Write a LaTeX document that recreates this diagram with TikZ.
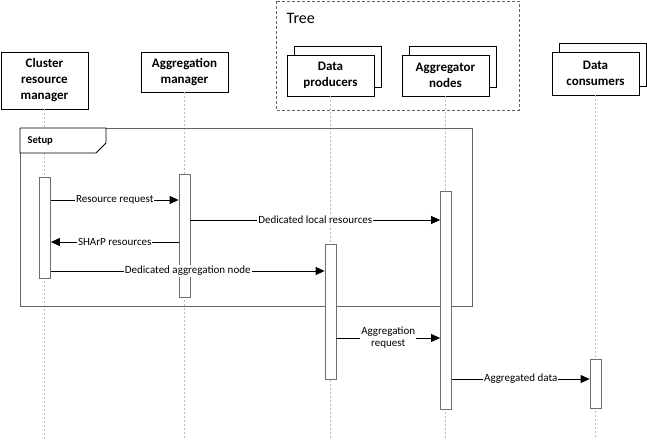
\documentclass[tikz,border=0pt]{standalone}
\usepackage{fontspec}
\setmainfont{Carlito}
\usetikzlibrary{arrows.meta,shadows}
\definecolor{lineGray}{RGB}{190,190,190}
\definecolor{barGray}{RGB}{110,110,110}
\definecolor{frameGray}{RGB}{100,100,100}
\tikzset{
    every picture/.style={
        line width=0.8pt
    },
    % boxes at the head of each lifeline
    actor box/.style={
        draw=black, fill=white,
        font=\fontsize{13}{16}\selectfont\bfseries,
        align=center, minimum width=87pt, inner sep=2pt
    },
    stacked box/.style={
        actor box,
        copy shadow={shadow xshift=7pt, shadow yshift=9pt, draw=black, fill=white}
    },
    life line/.style={draw=lineGray, dash pattern=on 2pt off 2pt, line width=0.6pt},
    activation bar/.style={draw=barGray, fill=white, minimum width=11pt, inner sep=0pt},
    message/.style={-{Triangle[length=9pt,width=8pt]}, line width=0.8pt},
    % Style for labels sitting on the arrows
    message label/.style={
        fill=white, inner sep=1pt, align=center,
        font=\fontsize{11}{12}\selectfont
    }
}

\begin{document}
\begin{tikzpicture}[x=1pt,y=-1pt]

% Set the canvas size
\path[use as bounding box] (0,0) rectangle (647,439);

% Tree group
\draw[frameGray, dash pattern=on 3pt off 2pt, line width=1pt] (276,1) rectangle (519,110);
\node[anchor=west, font=\fontsize{16}{18}\selectfont] (tree) at (283,18) {Tree};

% heads of the lifelines
\node[actor box, minimum height=57pt] (crm) at (44.5,80.5) {Cluster\\resource\\manager};
\node[actor box, minimum height=40pt] (am) at (184.5,72) {Aggregation\\manager};
\node[stacked box, minimum height=41pt] (dp) at (330.5,75.5) {Data\\producers};
\node[stacked box, minimum height=41pt] (an) at (445.5,75.5) {Aggregator\\nodes};
\node[stacked box, minimum height=43pt] (dc) at (595.5,73.5) {Data\\consumers};

% lifelines
\foreach \who in {crm,am,dp,an,dc}
    \draw[life line] (\who.south) -- (\who.south |- 0,439);

% Setup frame
\draw[frameGray, line width=1pt] (20,128) rectangle (472,306);
\draw[black, fill=white] (20,128) -- (106,128) -- (106,143) -- (96,153) -- (20,153) -- cycle;
\node[anchor=west, font=\fontsize{10.5}{12}\selectfont\bfseries] (setup) at (24,141) {Setup};

% activation bars
\node[activation bar, minimum height=101pt] (crmbar) at (45,227.5) {};
\node[activation bar, minimum height=123pt] (ambar) at (184.5,235.5) {};
\node[activation bar, minimum height=135pt] (dpbar) at (330.5,311.5) {};
\node[activation bar, minimum height=218pt] (anbar) at (446,300) {};
\node[activation bar, minimum height=49pt] (dcbar) at (595.5,383.5) {};

% messages
\draw[message] (crmbar.east |- 0,200) -- node[message label] {Resource request} (ambar.west |- 0,200);
\draw[message] (ambar.east |- 0,220) -- node[message label] {Dedicated local resources} (anbar.west |- 0,220);
\draw[message] (ambar.west |- 0,242) -- node[message label] {SHArP resources} (crmbar.east |- 0,242);
\draw[message] (crmbar.east |- 0,271) -- node[message label] {Dedicated aggregation node} (dpbar.west |- 0,271);
\draw[message] (dpbar.east |- 0,338) -- node[message label] {Aggregation\\request} (anbar.west |- 0,338);
\draw[message] (anbar.east |- 0,379) -- node[message label] {Aggregated data} (dcbar.west |- 0,379);

\end{tikzpicture}
\end{document}
